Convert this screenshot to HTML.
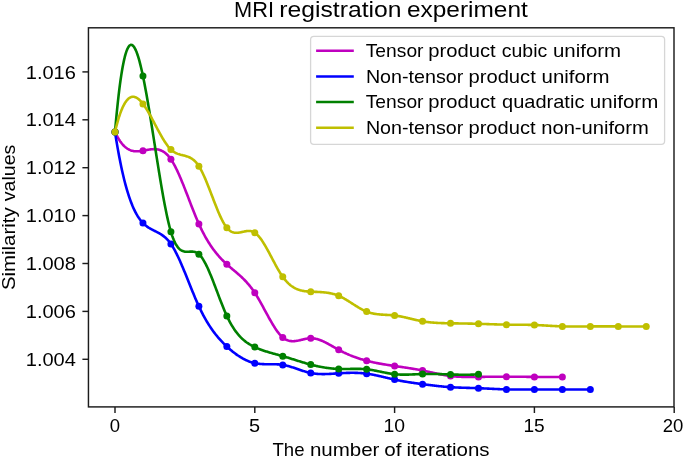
<!DOCTYPE html>
<html><head><meta charset="utf-8"><style>
html,body{margin:0;padding:0;background:#fff;}
body{width:685px;height:458px;overflow:hidden;}
svg{display:block;will-change:transform;}
.t{font-family:"Liberation Sans",sans-serif;font-size:18.6px;fill:#000;}
.tk{stroke:#1c1c1c;stroke-width:1.45;}
</style></head><body>
<svg width="685" height="458" viewBox="0 0 685 458">
<rect width="685" height="458" fill="#fff"/>
<clipPath id="c"><rect x="88.45" y="27.8" width="585.55" height="379.1"/></clipPath>
<g clip-path="url(#c)">
<path d="M115.00,132.00 L115.70,133.48 L116.40,134.89 L117.10,136.22 L117.80,137.49 L118.50,138.68 L119.19,139.81 L119.89,140.88 L120.59,141.88 L121.29,142.81 L121.99,143.69 L122.69,144.51 L123.39,145.28 L124.09,145.98 L124.79,146.64 L125.48,147.24 L126.18,147.80 L126.88,148.30 L127.58,148.76 L128.28,149.18 L128.98,149.55 L129.68,149.88 L130.38,150.17 L131.08,150.43 L131.78,150.65 L132.47,150.83 L133.17,150.99 L133.87,151.11 L134.57,151.20 L135.27,151.27 L135.97,151.31 L136.67,151.32 L137.37,151.32 L138.07,151.30 L138.77,151.25 L139.47,151.19 L140.16,151.12 L140.86,151.03 L141.56,150.93 L142.26,150.82 L142.96,150.70 L143.66,150.58 L144.36,150.45 L145.06,150.32 L145.76,150.18 L146.46,150.05 L147.15,149.92 L147.85,149.80 L148.55,149.68 L149.25,149.56 L149.95,149.46 L150.65,149.37 L151.35,149.29 L152.05,149.23 L152.75,149.18 L153.44,149.15 L154.14,149.14 L154.84,149.15 L155.54,149.18 L156.24,149.24 L156.94,149.32 L157.64,149.44 L158.34,149.58 L159.04,149.76 L159.74,149.97 L160.44,150.21 L161.13,150.49 L161.83,150.81 L162.53,151.18 L163.23,151.58 L163.93,152.03 L164.63,152.52 L165.33,153.06 L166.03,153.65 L166.73,154.29 L167.43,154.98 L168.12,155.73 L168.82,156.53 L169.52,157.40 L170.22,158.32 L170.92,159.30 L171.62,160.34 L172.32,161.45 L173.02,162.61 L173.72,163.83 L174.41,165.11 L175.11,166.43 L175.81,167.80 L176.51,169.22 L177.21,170.68 L177.91,172.18 L178.61,173.72 L179.31,175.29 L180.01,176.90 L180.71,178.54 L181.41,180.21 L182.10,181.90 L182.80,183.62 L183.50,185.36 L184.20,187.12 L184.90,188.89 L185.60,190.67 L186.30,192.47 L187.00,194.28 L187.70,196.09 L188.39,197.91 L189.09,199.72 L189.79,201.54 L190.49,203.35 L191.19,205.16 L191.89,206.95 L192.59,208.74 L193.29,210.51 L193.99,212.27 L194.69,214.01 L195.38,215.72 L196.08,217.41 L196.78,219.08 L197.48,220.72 L198.18,222.33 L198.88,223.90 L199.58,225.44 L200.28,226.94 L200.98,228.41 L201.68,229.84 L202.38,231.25 L203.07,232.61 L203.77,233.95 L204.47,235.25 L205.17,236.53 L205.87,237.77 L206.57,238.99 L207.27,240.17 L207.97,241.33 L208.67,242.46 L209.37,243.56 L210.06,244.64 L210.76,245.69 L211.46,246.72 L212.16,247.72 L212.86,248.70 L213.56,249.65 L214.26,250.59 L214.96,251.50 L215.66,252.39 L216.36,253.26 L217.05,254.11 L217.75,254.94 L218.45,255.75 L219.15,256.55 L219.85,257.33 L220.55,258.09 L221.25,258.83 L221.95,259.56 L222.65,260.28 L223.34,260.98 L224.04,261.67 L224.74,262.34 L225.44,263.01 L226.14,263.66 L226.84,264.30 L227.54,264.93 L228.24,265.55 L228.94,266.17 L229.64,266.78 L230.34,267.38 L231.03,267.98 L231.73,268.57 L232.43,269.16 L233.13,269.75 L233.83,270.34 L234.53,270.92 L235.23,271.51 L235.93,272.11 L236.63,272.70 L237.32,273.30 L238.02,273.91 L238.72,274.52 L239.42,275.14 L240.12,275.77 L240.82,276.41 L241.52,277.05 L242.22,277.72 L242.92,278.39 L243.62,279.08 L244.31,279.78 L245.01,280.50 L245.71,281.23 L246.41,281.98 L247.11,282.76 L247.81,283.55 L248.51,284.36 L249.21,285.20 L249.91,286.05 L250.61,286.94 L251.31,287.85 L252.00,288.78 L252.70,289.74 L253.40,290.73 L254.10,291.75 L254.80,292.80 L255.50,293.88 L256.20,294.99 L256.90,296.13 L257.60,297.29 L258.30,298.48 L258.99,299.68 L259.69,300.90 L260.39,302.15 L261.09,303.40 L261.79,304.67 L262.49,305.94 L263.19,307.23 L263.89,308.52 L264.59,309.81 L265.28,311.10 L265.98,312.39 L266.68,313.68 L267.38,314.97 L268.08,316.24 L268.78,317.51 L269.48,318.76 L270.18,320.00 L270.88,321.23 L271.58,322.44 L272.27,323.62 L272.97,324.78 L273.67,325.92 L274.37,327.03 L275.07,328.11 L275.77,329.16 L276.47,330.18 L277.17,331.16 L277.87,332.10 L278.57,333.00 L279.26,333.86 L279.96,334.68 L280.66,335.45 L281.36,336.17 L282.06,336.83 L282.76,337.45 L283.46,338.01 L284.16,338.52 L284.86,338.98 L285.56,339.38 L286.25,339.74 L286.95,340.06 L287.65,340.33 L288.35,340.56 L289.05,340.75 L289.75,340.90 L290.45,341.02 L291.15,341.11 L291.85,341.16 L292.55,341.19 L293.25,341.19 L293.94,341.16 L294.64,341.11 L295.34,341.04 L296.04,340.95 L296.74,340.84 L297.44,340.72 L298.14,340.59 L298.84,340.44 L299.54,340.29 L300.24,340.12 L300.93,339.96 L301.63,339.79 L302.33,339.62 L303.03,339.45 L303.73,339.29 L304.43,339.12 L305.13,338.97 L305.83,338.83 L306.53,338.70 L307.23,338.58 L307.92,338.47 L308.62,338.39 L309.32,338.32 L310.02,338.27 L310.72,338.25 L311.42,338.25 L312.12,338.28 L312.82,338.33 L313.52,338.40 L314.22,338.50 L314.91,338.62 L315.61,338.76 L316.31,338.91 L317.01,339.09 L317.71,339.29 L318.41,339.50 L319.11,339.73 L319.81,339.98 L320.51,340.24 L321.21,340.51 L321.90,340.80 L322.60,341.11 L323.30,341.42 L324.00,341.75 L324.70,342.08 L325.40,342.43 L326.10,342.78 L326.80,343.15 L327.50,343.52 L328.19,343.89 L328.89,344.28 L329.59,344.66 L330.29,345.05 L330.99,345.45 L331.69,345.85 L332.39,346.25 L333.09,346.65 L333.79,347.05 L334.49,347.45 L335.19,347.85 L335.88,348.25 L336.58,348.64 L337.28,349.03 L337.98,349.42 L338.68,349.80 L339.38,350.18 L340.08,350.54 L340.78,350.91 L341.48,351.27 L342.18,351.62 L342.87,351.96 L343.57,352.31 L344.27,352.64 L344.97,352.97 L345.67,353.29 L346.37,353.61 L347.07,353.93 L347.77,354.23 L348.47,354.54 L349.17,354.83 L349.86,355.13 L350.56,355.41 L351.26,355.70 L351.96,355.97 L352.66,356.25 L353.36,356.51 L354.06,356.78 L354.76,357.03 L355.46,357.29 L356.15,357.54 L356.85,357.78 L357.55,358.02 L358.25,358.25 L358.95,358.48 L359.65,358.71 L360.35,358.93 L361.05,359.15 L361.75,359.36 L362.45,359.57 L363.14,359.78 L363.84,359.98 L364.54,360.17 L365.24,360.37 L365.94,360.55 L366.64,360.74 L367.34,360.92 L368.04,361.10 L368.74,361.27 L369.44,361.44 L370.13,361.61 L370.83,361.77 L371.53,361.93 L372.23,362.09 L372.93,362.25 L373.63,362.40 L374.33,362.55 L375.03,362.69 L375.73,362.83 L376.43,362.97 L377.12,363.11 L377.82,363.25 L378.52,363.38 L379.22,363.51 L379.92,363.64 L380.62,363.76 L381.32,363.89 L382.02,364.01 L382.72,364.13 L383.42,364.25 L384.12,364.37 L384.81,364.48 L385.51,364.59 L386.21,364.71 L386.91,364.82 L387.61,364.93 L388.31,365.04 L389.01,365.15 L389.71,365.25 L390.41,365.36 L391.11,365.46 L391.80,365.57 L392.50,365.67 L393.20,365.77 L393.90,365.88 L394.60,365.98 L395.30,366.08 L396.00,366.18 L396.70,366.29 L397.40,366.39 L398.10,366.49 L398.79,366.59 L399.49,366.69 L400.19,366.80 L400.89,366.90 L401.59,367.00 L402.29,367.11 L402.99,367.21 L403.69,367.31 L404.39,367.42 L405.09,367.52 L405.78,367.63 L406.48,367.73 L407.18,367.84 L407.88,367.95 L408.58,368.06 L409.28,368.17 L409.98,368.28 L410.68,368.39 L411.38,368.51 L412.07,368.62 L412.77,368.74 L413.47,368.85 L414.17,368.97 L414.87,369.09 L415.57,369.21 L416.27,369.33 L416.97,369.46 L417.67,369.59 L418.37,369.71 L419.06,369.84 L419.76,369.97 L420.46,370.11 L421.16,370.24 L421.86,370.38 L422.56,370.52 L423.26,370.66 L423.96,370.81 L424.66,370.95 L425.36,371.10 L426.06,371.25 L426.75,371.40 L427.45,371.55 L428.15,371.70 L428.85,371.85 L429.55,372.00 L430.25,372.16 L430.95,372.31 L431.65,372.47 L432.35,372.62 L433.05,372.77 L433.74,372.93 L434.44,373.08 L435.14,373.23 L435.84,373.38 L436.54,373.53 L437.24,373.68 L437.94,373.82 L438.64,373.97 L439.34,374.11 L440.04,374.25 L440.73,374.39 L441.43,374.53 L442.13,374.66 L442.83,374.79 L443.53,374.92 L444.23,375.04 L444.93,375.17 L445.63,375.28 L446.33,375.40 L447.03,375.51 L447.72,375.62 L448.42,375.72 L449.12,375.82 L449.82,375.91 L450.52,376.00 L451.22,376.08 L451.92,376.16 L452.62,376.24 L453.32,376.31 L454.01,376.38 L454.71,376.44 L455.41,376.49 L456.11,376.55 L456.81,376.60 L457.51,376.64 L458.21,376.69 L458.91,376.73 L459.61,376.76 L460.31,376.79 L461.00,376.82 L461.70,376.85 L462.40,376.87 L463.10,376.89 L463.80,376.91 L464.50,376.93 L465.20,376.94 L465.90,376.95 L466.60,376.96 L467.30,376.97 L468.00,376.97 L468.69,376.97 L469.39,376.98 L470.09,376.98 L470.79,376.97 L471.49,376.97 L472.19,376.97 L472.89,376.96 L473.59,376.96 L474.29,376.95 L474.99,376.94 L475.68,376.93 L476.38,376.93 L477.08,376.92 L477.78,376.91 L478.48,376.90 L479.18,376.89 L479.88,376.88 L480.58,376.87 L481.28,376.87 L481.98,376.86 L482.67,376.85 L483.37,376.84 L484.07,376.83 L484.77,376.83 L485.47,376.82 L486.17,376.81 L486.87,376.80 L487.57,376.80 L488.27,376.79 L488.97,376.78 L489.66,376.78 L490.36,376.77 L491.06,376.76 L491.76,376.76 L492.46,376.75 L493.16,376.75 L493.86,376.74 L494.56,376.74 L495.26,376.73 L495.95,376.73 L496.65,376.72 L497.35,376.72 L498.05,376.72 L498.75,376.71 L499.45,376.71 L500.15,376.71 L500.85,376.71 L501.55,376.70 L502.25,376.70 L502.94,376.70 L503.64,376.70 L504.34,376.70 L505.04,376.70 L505.74,376.70 L506.44,376.70 L507.14,376.70 L507.84,376.70 L508.54,376.70 L509.24,376.71 L509.94,376.71 L510.63,376.71 L511.33,376.71 L512.03,376.72 L512.73,376.72 L513.43,376.72 L514.13,376.73 L514.83,376.73 L515.53,376.74 L516.23,376.74 L516.92,376.75 L517.62,376.75 L518.32,376.76 L519.02,376.76 L519.72,376.77 L520.42,376.77 L521.12,376.78 L521.82,376.79 L522.52,376.79 L523.22,376.80 L523.91,376.80 L524.61,376.81 L525.31,376.82 L526.01,376.82 L526.71,376.83 L527.41,376.84 L528.11,376.84 L528.81,376.85 L529.51,376.86 L530.21,376.86 L530.90,376.87 L531.60,376.88 L532.30,376.88 L533.00,376.89 L533.70,376.89 L534.40,376.90 L535.10,376.91 L535.80,376.91 L536.50,376.92 L537.20,376.92 L537.89,376.93 L538.59,376.93 L539.29,376.94 L539.99,376.94 L540.69,376.95 L541.39,376.95 L542.09,376.95 L542.79,376.96 L543.49,376.96 L544.19,376.96 L544.88,376.97 L545.58,376.97 L546.28,376.97 L546.98,376.97 L547.68,376.97 L548.38,376.98 L549.08,376.98 L549.78,376.98 L550.48,376.98 L551.18,376.98 L551.88,376.98 L552.57,376.97 L553.27,376.97 L553.97,376.97 L554.67,376.97 L555.37,376.96 L556.07,376.96 L556.77,376.96 L557.47,376.95 L558.17,376.94 L558.87,376.94 L559.56,376.93 L560.26,376.93 L560.96,376.92 L561.66,376.91 L562.36,376.90" fill="none" stroke="#bf00bf" stroke-width="2.6" stroke-linejoin="round" stroke-linecap="butt"/>
<circle cx="115.00" cy="132.00" r="3.5" fill="#bf00bf"/>
<circle cx="142.96" cy="150.70" r="3.5" fill="#bf00bf"/>
<circle cx="170.92" cy="159.30" r="3.5" fill="#bf00bf"/>
<circle cx="198.88" cy="223.90" r="3.5" fill="#bf00bf"/>
<circle cx="226.84" cy="264.30" r="3.5" fill="#bf00bf"/>
<circle cx="254.80" cy="292.80" r="3.5" fill="#bf00bf"/>
<circle cx="282.76" cy="337.45" r="3.5" fill="#bf00bf"/>
<circle cx="310.72" cy="338.25" r="3.5" fill="#bf00bf"/>
<circle cx="338.68" cy="349.80" r="3.5" fill="#bf00bf"/>
<circle cx="366.64" cy="360.74" r="3.5" fill="#bf00bf"/>
<circle cx="394.60" cy="365.98" r="3.5" fill="#bf00bf"/>
<circle cx="422.56" cy="370.52" r="3.5" fill="#bf00bf"/>
<circle cx="450.52" cy="376.00" r="3.5" fill="#bf00bf"/>
<circle cx="478.48" cy="376.90" r="3.5" fill="#bf00bf"/>
<circle cx="506.44" cy="376.70" r="3.5" fill="#bf00bf"/>
<circle cx="534.40" cy="376.90" r="3.5" fill="#bf00bf"/>
<circle cx="562.36" cy="376.90" r="3.5" fill="#bf00bf"/>
<path d="M115.00,132.00 L115.70,136.43 L116.40,140.72 L117.10,144.87 L117.80,148.88 L118.50,152.75 L119.19,156.49 L119.89,160.10 L120.59,163.59 L121.29,166.95 L121.99,170.19 L122.69,173.30 L123.39,176.30 L124.09,179.19 L124.79,181.96 L125.48,184.62 L126.18,187.18 L126.88,189.63 L127.58,191.98 L128.28,194.23 L128.98,196.38 L129.68,198.44 L130.38,200.41 L131.08,202.29 L131.78,204.08 L132.47,205.78 L133.17,207.40 L133.87,208.95 L134.57,210.42 L135.27,211.81 L135.97,213.13 L136.67,214.39 L137.37,215.57 L138.07,216.69 L138.77,217.75 L139.47,218.76 L140.16,219.70 L140.86,220.59 L141.56,221.43 L142.26,222.22 L142.96,222.97 L143.66,223.67 L144.36,224.33 L145.06,224.95 L145.76,225.54 L146.46,226.09 L147.15,226.61 L147.85,227.10 L148.55,227.57 L149.25,228.01 L149.95,228.43 L150.65,228.84 L151.35,229.23 L152.05,229.60 L152.75,229.96 L153.44,230.32 L154.14,230.67 L154.84,231.02 L155.54,231.36 L156.24,231.71 L156.94,232.06 L157.64,232.42 L158.34,232.79 L159.04,233.17 L159.74,233.57 L160.44,233.98 L161.13,234.42 L161.83,234.87 L162.53,235.35 L163.23,235.86 L163.93,236.40 L164.63,236.97 L165.33,237.57 L166.03,238.21 L166.73,238.89 L167.43,239.62 L168.12,240.39 L168.82,241.21 L169.52,242.07 L170.22,242.99 L170.92,243.97 L171.62,245.00 L172.32,246.09 L173.02,247.23 L173.72,248.42 L174.41,249.67 L175.11,250.95 L175.81,252.29 L176.51,253.66 L177.21,255.07 L177.91,256.52 L178.61,258.01 L179.31,259.53 L180.01,261.08 L180.71,262.66 L181.41,264.26 L182.10,265.89 L182.80,267.54 L183.50,269.21 L184.20,270.90 L184.90,272.60 L185.60,274.32 L186.30,276.04 L187.00,277.77 L187.70,279.51 L188.39,281.25 L189.09,283.00 L189.79,284.74 L190.49,286.48 L191.19,288.22 L191.89,289.94 L192.59,291.66 L193.29,293.36 L193.99,295.05 L194.69,296.73 L195.38,298.38 L196.08,300.01 L196.78,301.62 L197.48,303.21 L198.18,304.76 L198.88,306.29 L199.58,307.78 L200.28,309.25 L200.98,310.68 L201.68,312.08 L202.38,313.44 L203.07,314.78 L203.77,316.09 L204.47,317.38 L205.17,318.63 L205.87,319.85 L206.57,321.05 L207.27,322.23 L207.97,323.37 L208.67,324.49 L209.37,325.59 L210.06,326.66 L210.76,327.71 L211.46,328.74 L212.16,329.74 L212.86,330.72 L213.56,331.68 L214.26,332.62 L214.96,333.53 L215.66,334.43 L216.36,335.31 L217.05,336.17 L217.75,337.01 L218.45,337.84 L219.15,338.64 L219.85,339.43 L220.55,340.21 L221.25,340.97 L221.95,341.71 L222.65,342.44 L223.34,343.16 L224.04,343.86 L224.74,344.55 L225.44,345.23 L226.14,345.89 L226.84,346.55 L227.54,347.19 L228.24,347.83 L228.94,348.45 L229.64,349.07 L230.34,349.67 L231.03,350.26 L231.73,350.84 L232.43,351.41 L233.13,351.96 L233.83,352.51 L234.53,353.05 L235.23,353.57 L235.93,354.08 L236.63,354.58 L237.32,355.07 L238.02,355.54 L238.72,356.01 L239.42,356.46 L240.12,356.90 L240.82,357.33 L241.52,357.74 L242.22,358.14 L242.92,358.53 L243.62,358.91 L244.31,359.28 L245.01,359.63 L245.71,359.97 L246.41,360.29 L247.11,360.60 L247.81,360.90 L248.51,361.19 L249.21,361.46 L249.91,361.72 L250.61,361.96 L251.31,362.19 L252.00,362.41 L252.70,362.61 L253.40,362.80 L254.10,362.98 L254.80,363.14 L255.50,363.29 L256.20,363.42 L256.90,363.54 L257.60,363.65 L258.30,363.74 L258.99,363.83 L259.69,363.90 L260.39,363.97 L261.09,364.02 L261.79,364.07 L262.49,364.11 L263.19,364.14 L263.89,364.17 L264.59,364.19 L265.28,364.21 L265.98,364.22 L266.68,364.23 L267.38,364.23 L268.08,364.23 L268.78,364.23 L269.48,364.23 L270.18,364.23 L270.88,364.23 L271.58,364.23 L272.27,364.23 L272.97,364.23 L273.67,364.24 L274.37,364.25 L275.07,364.26 L275.77,364.28 L276.47,364.31 L277.17,364.34 L277.87,364.38 L278.57,364.42 L279.26,364.48 L279.96,364.54 L280.66,364.61 L281.36,364.69 L282.06,364.79 L282.76,364.89 L283.46,365.01 L284.16,365.13 L284.86,365.27 L285.56,365.42 L286.25,365.58 L286.95,365.75 L287.65,365.93 L288.35,366.11 L289.05,366.31 L289.75,366.51 L290.45,366.71 L291.15,366.93 L291.85,367.15 L292.55,367.37 L293.25,367.60 L293.94,367.83 L294.64,368.06 L295.34,368.30 L296.04,368.53 L296.74,368.77 L297.44,369.01 L298.14,369.25 L298.84,369.49 L299.54,369.73 L300.24,369.97 L300.93,370.21 L301.63,370.44 L302.33,370.67 L303.03,370.90 L303.73,371.12 L304.43,371.33 L305.13,371.55 L305.83,371.75 L306.53,371.95 L307.23,372.14 L307.92,372.32 L308.62,372.50 L309.32,372.67 L310.02,372.82 L310.72,372.97 L311.42,373.11 L312.12,373.23 L312.82,373.35 L313.52,373.46 L314.22,373.55 L314.91,373.64 L315.61,373.72 L316.31,373.79 L317.01,373.85 L317.71,373.91 L318.41,373.95 L319.11,373.99 L319.81,374.03 L320.51,374.05 L321.21,374.07 L321.90,374.08 L322.60,374.09 L323.30,374.09 L324.00,374.09 L324.70,374.08 L325.40,374.07 L326.10,374.05 L326.80,374.03 L327.50,374.00 L328.19,373.97 L328.89,373.94 L329.59,373.90 L330.29,373.87 L330.99,373.83 L331.69,373.79 L332.39,373.74 L333.09,373.70 L333.79,373.65 L334.49,373.60 L335.19,373.56 L335.88,373.51 L336.58,373.46 L337.28,373.41 L337.98,373.37 L338.68,373.32 L339.38,373.28 L340.08,373.23 L340.78,373.19 L341.48,373.15 L342.18,373.11 L342.87,373.08 L343.57,373.04 L344.27,373.01 L344.97,372.98 L345.67,372.95 L346.37,372.92 L347.07,372.90 L347.77,372.88 L348.47,372.86 L349.17,372.84 L349.86,372.83 L350.56,372.82 L351.26,372.82 L351.96,372.81 L352.66,372.81 L353.36,372.82 L354.06,372.82 L354.76,372.83 L355.46,372.85 L356.15,372.86 L356.85,372.89 L357.55,372.91 L358.25,372.94 L358.95,372.98 L359.65,373.02 L360.35,373.06 L361.05,373.11 L361.75,373.16 L362.45,373.22 L363.14,373.28 L363.84,373.35 L364.54,373.42 L365.24,373.50 L365.94,373.58 L366.64,373.67 L367.34,373.76 L368.04,373.86 L368.74,373.97 L369.44,374.08 L370.13,374.19 L370.83,374.31 L371.53,374.43 L372.23,374.56 L372.93,374.69 L373.63,374.83 L374.33,374.97 L375.03,375.11 L375.73,375.25 L376.43,375.40 L377.12,375.55 L377.82,375.71 L378.52,375.86 L379.22,376.02 L379.92,376.18 L380.62,376.34 L381.32,376.50 L382.02,376.67 L382.72,376.83 L383.42,377.00 L384.12,377.16 L384.81,377.33 L385.51,377.50 L386.21,377.66 L386.91,377.83 L387.61,378.00 L388.31,378.16 L389.01,378.33 L389.71,378.49 L390.41,378.66 L391.11,378.82 L391.80,378.98 L392.50,379.14 L393.20,379.29 L393.90,379.45 L394.60,379.60 L395.30,379.75 L396.00,379.90 L396.70,380.04 L397.40,380.18 L398.10,380.32 L398.79,380.46 L399.49,380.59 L400.19,380.73 L400.89,380.86 L401.59,380.98 L402.29,381.11 L402.99,381.23 L403.69,381.36 L404.39,381.48 L405.09,381.60 L405.78,381.71 L406.48,381.83 L407.18,381.94 L407.88,382.05 L408.58,382.16 L409.28,382.27 L409.98,382.38 L410.68,382.49 L411.38,382.59 L412.07,382.70 L412.77,382.80 L413.47,382.90 L414.17,383.00 L414.87,383.10 L415.57,383.20 L416.27,383.30 L416.97,383.40 L417.67,383.49 L418.37,383.59 L419.06,383.68 L419.76,383.78 L420.46,383.87 L421.16,383.96 L421.86,384.06 L422.56,384.15 L423.26,384.24 L423.96,384.33 L424.66,384.43 L425.36,384.52 L426.06,384.61 L426.75,384.70 L427.45,384.79 L428.15,384.88 L428.85,384.97 L429.55,385.05 L430.25,385.14 L430.95,385.23 L431.65,385.31 L432.35,385.40 L433.05,385.48 L433.74,385.56 L434.44,385.65 L435.14,385.73 L435.84,385.81 L436.54,385.89 L437.24,385.96 L437.94,386.04 L438.64,386.11 L439.34,386.19 L440.04,386.26 L440.73,386.33 L441.43,386.40 L442.13,386.47 L442.83,386.54 L443.53,386.60 L444.23,386.67 L444.93,386.73 L445.63,386.79 L446.33,386.85 L447.03,386.90 L447.72,386.96 L448.42,387.01 L449.12,387.06 L449.82,387.11 L450.52,387.16 L451.22,387.21 L451.92,387.25 L452.62,387.29 L453.32,387.33 L454.01,387.37 L454.71,387.40 L455.41,387.44 L456.11,387.47 L456.81,387.50 L457.51,387.53 L458.21,387.56 L458.91,387.59 L459.61,387.62 L460.31,387.65 L461.00,387.67 L461.70,387.69 L462.40,387.72 L463.10,387.74 L463.80,387.76 L464.50,387.78 L465.20,387.80 L465.90,387.82 L466.60,387.84 L467.30,387.86 L468.00,387.88 L468.69,387.90 L469.39,387.92 L470.09,387.94 L470.79,387.96 L471.49,387.98 L472.19,388.00 L472.89,388.02 L473.59,388.04 L474.29,388.06 L474.99,388.08 L475.68,388.10 L476.38,388.13 L477.08,388.15 L477.78,388.17 L478.48,388.20 L479.18,388.23 L479.88,388.25 L480.58,388.28 L481.28,388.31 L481.98,388.34 L482.67,388.37 L483.37,388.40 L484.07,388.43 L484.77,388.47 L485.47,388.50 L486.17,388.53 L486.87,388.56 L487.57,388.60 L488.27,388.63 L488.97,388.67 L489.66,388.70 L490.36,388.73 L491.06,388.77 L491.76,388.80 L492.46,388.84 L493.16,388.87 L493.86,388.90 L494.56,388.94 L495.26,388.97 L495.95,389.00 L496.65,389.03 L497.35,389.06 L498.05,389.09 L498.75,389.12 L499.45,389.15 L500.15,389.18 L500.85,389.21 L501.55,389.24 L502.25,389.26 L502.94,389.29 L503.64,389.31 L504.34,389.33 L505.04,389.35 L505.74,389.37 L506.44,389.39 L507.14,389.41 L507.84,389.42 L508.54,389.44 L509.24,389.45 L509.94,389.46 L510.63,389.47 L511.33,389.48 L512.03,389.49 L512.73,389.50 L513.43,389.50 L514.13,389.51 L514.83,389.51 L515.53,389.52 L516.23,389.52 L516.92,389.52 L517.62,389.52 L518.32,389.52 L519.02,389.52 L519.72,389.52 L520.42,389.52 L521.12,389.52 L521.82,389.52 L522.52,389.52 L523.22,389.51 L523.91,389.51 L524.61,389.51 L525.31,389.50 L526.01,389.50 L526.71,389.49 L527.41,389.49 L528.11,389.49 L528.81,389.48 L529.51,389.48 L530.21,389.47 L530.90,389.47 L531.60,389.46 L532.30,389.46 L533.00,389.46 L533.70,389.45 L534.40,389.45 L535.10,389.45 L535.80,389.44 L536.50,389.44 L537.20,389.44 L537.89,389.44 L538.59,389.44 L539.29,389.44 L539.99,389.44 L540.69,389.44 L541.39,389.44 L542.09,389.44 L542.79,389.44 L543.49,389.44 L544.19,389.44 L544.88,389.44 L545.58,389.44 L546.28,389.45 L546.98,389.45 L547.68,389.45 L548.38,389.45 L549.08,389.45 L549.78,389.46 L550.48,389.46 L551.18,389.46 L551.88,389.47 L552.57,389.47 L553.27,389.47 L553.97,389.48 L554.67,389.48 L555.37,389.48 L556.07,389.49 L556.77,389.49 L557.47,389.49 L558.17,389.50 L558.87,389.50 L559.56,389.51 L560.26,389.51 L560.96,389.51 L561.66,389.52 L562.36,389.52 L563.06,389.52 L563.76,389.53 L564.46,389.53 L565.16,389.53 L565.86,389.54 L566.55,389.54 L567.25,389.54 L567.95,389.55 L568.65,389.55 L569.35,389.55 L570.05,389.56 L570.75,389.56 L571.45,389.56 L572.15,389.56 L572.85,389.56 L573.54,389.57 L574.24,389.57 L574.94,389.57 L575.64,389.57 L576.34,389.57 L577.04,389.57 L577.74,389.57 L578.44,389.57 L579.14,389.57 L579.84,389.57 L580.53,389.57 L581.23,389.57 L581.93,389.57 L582.63,389.56 L583.33,389.56 L584.03,389.56 L584.73,389.56 L585.43,389.55 L586.13,389.55 L586.83,389.55 L587.52,389.54 L588.22,389.54 L588.92,389.53 L589.62,389.53 L590.32,389.52" fill="none" stroke="#0000ff" stroke-width="2.6" stroke-linejoin="round" stroke-linecap="butt"/>
<circle cx="115.00" cy="132.00" r="3.5" fill="#0000ff"/>
<circle cx="142.96" cy="222.97" r="3.5" fill="#0000ff"/>
<circle cx="170.92" cy="243.97" r="3.5" fill="#0000ff"/>
<circle cx="198.88" cy="306.29" r="3.5" fill="#0000ff"/>
<circle cx="226.84" cy="346.55" r="3.5" fill="#0000ff"/>
<circle cx="254.80" cy="363.14" r="3.5" fill="#0000ff"/>
<circle cx="282.76" cy="364.89" r="3.5" fill="#0000ff"/>
<circle cx="310.72" cy="372.97" r="3.5" fill="#0000ff"/>
<circle cx="338.68" cy="373.32" r="3.5" fill="#0000ff"/>
<circle cx="366.64" cy="373.67" r="3.5" fill="#0000ff"/>
<circle cx="394.60" cy="379.60" r="3.5" fill="#0000ff"/>
<circle cx="422.56" cy="384.15" r="3.5" fill="#0000ff"/>
<circle cx="450.52" cy="387.16" r="3.5" fill="#0000ff"/>
<circle cx="478.48" cy="388.20" r="3.5" fill="#0000ff"/>
<circle cx="506.44" cy="389.39" r="3.5" fill="#0000ff"/>
<circle cx="534.40" cy="389.45" r="3.5" fill="#0000ff"/>
<circle cx="562.36" cy="389.52" r="3.5" fill="#0000ff"/>
<circle cx="590.32" cy="389.52" r="3.5" fill="#0000ff"/>
<path d="M115.00,132.00 L115.70,123.99 L116.40,116.43 L117.10,109.29 L117.80,102.58 L118.50,96.28 L119.19,90.38 L119.89,84.89 L120.59,79.79 L121.29,75.07 L121.99,70.72 L122.69,66.75 L123.39,63.13 L124.09,59.87 L124.79,56.95 L125.48,54.36 L126.18,52.11 L126.88,50.17 L127.58,48.55 L128.28,47.24 L128.98,46.22 L129.68,45.48 L130.38,45.03 L131.08,44.86 L131.78,44.95 L132.47,45.29 L133.17,45.89 L133.87,46.73 L134.57,47.80 L135.27,49.10 L135.97,50.62 L136.67,52.35 L137.37,54.28 L138.07,56.41 L138.77,58.72 L139.47,61.22 L140.16,63.88 L140.86,66.71 L141.56,69.70 L142.26,72.83 L142.96,76.10 L143.66,79.50 L144.36,83.03 L145.06,86.68 L145.76,90.43 L146.46,94.29 L147.15,98.24 L147.85,102.27 L148.55,106.38 L149.25,110.56 L149.95,114.80 L150.65,119.09 L151.35,123.43 L152.05,127.81 L152.75,132.22 L153.44,136.65 L154.14,141.10 L154.84,145.55 L155.54,150.00 L156.24,154.45 L156.94,158.87 L157.64,163.27 L158.34,167.64 L159.04,171.97 L159.74,176.25 L160.44,180.47 L161.13,184.63 L161.83,188.72 L162.53,192.73 L163.23,196.65 L163.93,200.47 L164.63,204.19 L165.33,207.80 L166.03,211.30 L166.73,214.66 L167.43,217.89 L168.12,220.98 L168.82,223.92 L169.52,226.70 L170.22,229.31 L170.92,231.75 L171.62,234.01 L172.32,236.10 L173.02,238.01 L173.72,239.77 L174.41,241.37 L175.11,242.83 L175.81,244.14 L176.51,245.33 L177.21,246.38 L177.91,247.32 L178.61,248.14 L179.31,248.86 L180.01,249.48 L180.71,250.01 L181.41,250.45 L182.10,250.82 L182.80,251.11 L183.50,251.34 L184.20,251.51 L184.90,251.63 L185.60,251.71 L186.30,251.75 L187.00,251.77 L187.70,251.76 L188.39,251.73 L189.09,251.69 L189.79,251.66 L190.49,251.63 L191.19,251.61 L191.89,251.61 L192.59,251.63 L193.29,251.69 L193.99,251.78 L194.69,251.93 L195.38,252.12 L196.08,252.38 L196.78,252.71 L197.48,253.10 L198.18,253.58 L198.88,254.15 L199.58,254.81 L200.28,255.56 L200.98,256.40 L201.68,257.32 L202.38,258.33 L203.07,259.41 L203.77,260.56 L204.47,261.78 L205.17,263.07 L205.87,264.42 L206.57,265.83 L207.27,267.30 L207.97,268.81 L208.67,270.38 L209.37,271.99 L210.06,273.63 L210.76,275.32 L211.46,277.04 L212.16,278.78 L212.86,280.56 L213.56,282.35 L214.26,284.17 L214.96,286.00 L215.66,287.84 L216.36,289.69 L217.05,291.54 L217.75,293.40 L218.45,295.25 L219.15,297.09 L219.85,298.93 L220.55,300.75 L221.25,302.55 L221.95,304.33 L222.65,306.09 L223.34,307.81 L224.04,309.51 L224.74,311.17 L225.44,312.79 L226.14,314.37 L226.84,315.90 L227.54,317.38 L228.24,318.81 L228.94,320.20 L229.64,321.54 L230.34,322.83 L231.03,324.07 L231.73,325.28 L232.43,326.44 L233.13,327.55 L233.83,328.63 L234.53,329.67 L235.23,330.67 L235.93,331.63 L236.63,332.55 L237.32,333.44 L238.02,334.29 L238.72,335.11 L239.42,335.90 L240.12,336.65 L240.82,337.38 L241.52,338.07 L242.22,338.74 L242.92,339.38 L243.62,340.00 L244.31,340.58 L245.01,341.15 L245.71,341.69 L246.41,342.21 L247.11,342.70 L247.81,343.18 L248.51,343.64 L249.21,344.08 L249.91,344.50 L250.61,344.91 L251.31,345.30 L252.00,345.68 L252.70,346.04 L253.40,346.40 L254.10,346.74 L254.80,347.07 L255.50,347.39 L256.20,347.71 L256.90,348.02 L257.60,348.32 L258.30,348.61 L258.99,348.89 L259.69,349.17 L260.39,349.44 L261.09,349.70 L261.79,349.96 L262.49,350.21 L263.19,350.46 L263.89,350.70 L264.59,350.93 L265.28,351.16 L265.98,351.39 L266.68,351.61 L267.38,351.83 L268.08,352.04 L268.78,352.25 L269.48,352.46 L270.18,352.66 L270.88,352.87 L271.58,353.06 L272.27,353.26 L272.97,353.46 L273.67,353.65 L274.37,353.84 L275.07,354.04 L275.77,354.23 L276.47,354.42 L277.17,354.61 L277.87,354.80 L278.57,354.99 L279.26,355.18 L279.96,355.37 L280.66,355.57 L281.36,355.76 L282.06,355.96 L282.76,356.16 L283.46,356.36 L284.16,356.57 L284.86,356.77 L285.56,356.98 L286.25,357.19 L286.95,357.40 L287.65,357.61 L288.35,357.83 L289.05,358.04 L289.75,358.26 L290.45,358.48 L291.15,358.70 L291.85,358.92 L292.55,359.14 L293.25,359.36 L293.94,359.58 L294.64,359.80 L295.34,360.02 L296.04,360.24 L296.74,360.46 L297.44,360.68 L298.14,360.90 L298.84,361.12 L299.54,361.33 L300.24,361.55 L300.93,361.77 L301.63,361.98 L302.33,362.19 L303.03,362.41 L303.73,362.62 L304.43,362.82 L305.13,363.03 L305.83,363.23 L306.53,363.44 L307.23,363.63 L307.92,363.83 L308.62,364.03 L309.32,364.22 L310.02,364.40 L310.72,364.59 L311.42,364.77 L312.12,364.95 L312.82,365.13 L313.52,365.30 L314.22,365.47 L314.91,365.63 L315.61,365.79 L316.31,365.95 L317.01,366.11 L317.71,366.26 L318.41,366.41 L319.11,366.55 L319.81,366.69 L320.51,366.83 L321.21,366.96 L321.90,367.09 L322.60,367.22 L323.30,367.34 L324.00,367.45 L324.70,367.57 L325.40,367.68 L326.10,367.78 L326.80,367.88 L327.50,367.98 L328.19,368.08 L328.89,368.16 L329.59,368.25 L330.29,368.33 L330.99,368.41 L331.69,368.48 L332.39,368.55 L333.09,368.61 L333.79,368.67 L334.49,368.72 L335.19,368.77 L335.88,368.82 L336.58,368.86 L337.28,368.89 L337.98,368.92 L338.68,368.95 L339.38,368.97 L340.08,368.99 L340.78,369.00 L341.48,369.01 L342.18,369.02 L342.87,369.02 L343.57,369.02 L344.27,369.02 L344.97,369.01 L345.67,369.00 L346.37,368.99 L347.07,368.98 L347.77,368.97 L348.47,368.96 L349.17,368.94 L349.86,368.93 L350.56,368.92 L351.26,368.90 L351.96,368.89 L352.66,368.88 L353.36,368.87 L354.06,368.86 L354.76,368.85 L355.46,368.85 L356.15,368.84 L356.85,368.84 L357.55,368.85 L358.25,368.85 L358.95,368.86 L359.65,368.88 L360.35,368.90 L361.05,368.92 L361.75,368.95 L362.45,368.98 L363.14,369.02 L363.84,369.06 L364.54,369.11 L365.24,369.17 L365.94,369.23 L366.64,369.30 L367.34,369.38 L368.04,369.46 L368.74,369.55 L369.44,369.65 L370.13,369.75 L370.83,369.86 L371.53,369.97 L372.23,370.09 L372.93,370.21 L373.63,370.34 L374.33,370.47 L375.03,370.60 L375.73,370.74 L376.43,370.87 L377.12,371.01 L377.82,371.16 L378.52,371.30 L379.22,371.45 L379.92,371.59 L380.62,371.74 L381.32,371.88 L382.02,372.03 L382.72,372.18 L383.42,372.32 L384.12,372.46 L384.81,372.60 L385.51,372.74 L386.21,372.88 L386.91,373.01 L387.61,373.14 L388.31,373.27 L389.01,373.39 L389.71,373.51 L390.41,373.62 L391.11,373.73 L391.80,373.84 L392.50,373.93 L393.20,374.03 L393.90,374.11 L394.60,374.19 L395.30,374.26 L396.00,374.33 L396.70,374.38 L397.40,374.44 L398.10,374.48 L398.79,374.52 L399.49,374.55 L400.19,374.58 L400.89,374.60 L401.59,374.62 L402.29,374.63 L402.99,374.64 L403.69,374.65 L404.39,374.65 L405.09,374.64 L405.78,374.64 L406.48,374.63 L407.18,374.61 L407.88,374.60 L408.58,374.58 L409.28,374.55 L409.98,374.53 L410.68,374.51 L411.38,374.48 L412.07,374.45 L412.77,374.42 L413.47,374.39 L414.17,374.36 L414.87,374.33 L415.57,374.30 L416.27,374.26 L416.97,374.23 L417.67,374.20 L418.37,374.17 L419.06,374.14 L419.76,374.11 L420.46,374.09 L421.16,374.06 L421.86,374.04 L422.56,374.02 L423.26,374.00 L423.96,373.99 L424.66,373.97 L425.36,373.96 L426.06,373.95 L426.75,373.95 L427.45,373.94 L428.15,373.94 L428.85,373.94 L429.55,373.94 L430.25,373.94 L430.95,373.94 L431.65,373.95 L432.35,373.96 L433.05,373.97 L433.74,373.98 L434.44,373.99 L435.14,374.00 L435.84,374.02 L436.54,374.03 L437.24,374.05 L437.94,374.06 L438.64,374.08 L439.34,374.10 L440.04,374.12 L440.73,374.14 L441.43,374.16 L442.13,374.18 L442.83,374.21 L443.53,374.23 L444.23,374.25 L444.93,374.27 L445.63,374.30 L446.33,374.32 L447.03,374.34 L447.72,374.37 L448.42,374.39 L449.12,374.41 L449.82,374.44 L450.52,374.46 L451.22,374.48 L451.92,374.50 L452.62,374.53 L453.32,374.55 L454.01,374.57 L454.71,374.59 L455.41,374.60 L456.11,374.62 L456.81,374.64 L457.51,374.66 L458.21,374.67 L458.91,374.68 L459.61,374.70 L460.31,374.71 L461.00,374.72 L461.70,374.73 L462.40,374.73 L463.10,374.74 L463.80,374.74 L464.50,374.74 L465.20,374.74 L465.90,374.74 L466.60,374.74 L467.30,374.73 L468.00,374.73 L468.69,374.72 L469.39,374.71 L470.09,374.69 L470.79,374.67 L471.49,374.66 L472.19,374.63 L472.89,374.61 L473.59,374.58 L474.29,374.56 L474.99,374.52 L475.68,374.49 L476.38,374.45 L477.08,374.41 L477.78,374.37 L478.48,374.32" fill="none" stroke="#008000" stroke-width="2.6" stroke-linejoin="round" stroke-linecap="butt"/>
<circle cx="115.00" cy="132.00" r="3.5" fill="#008000"/>
<circle cx="142.96" cy="76.10" r="3.5" fill="#008000"/>
<circle cx="170.92" cy="231.75" r="3.5" fill="#008000"/>
<circle cx="198.88" cy="254.15" r="3.5" fill="#008000"/>
<circle cx="226.84" cy="315.90" r="3.5" fill="#008000"/>
<circle cx="254.80" cy="347.07" r="3.5" fill="#008000"/>
<circle cx="282.76" cy="356.16" r="3.5" fill="#008000"/>
<circle cx="310.72" cy="364.59" r="3.5" fill="#008000"/>
<circle cx="338.68" cy="368.95" r="3.5" fill="#008000"/>
<circle cx="366.64" cy="369.30" r="3.5" fill="#008000"/>
<circle cx="394.60" cy="374.19" r="3.5" fill="#008000"/>
<circle cx="422.56" cy="374.02" r="3.5" fill="#008000"/>
<circle cx="450.52" cy="374.46" r="3.5" fill="#008000"/>
<circle cx="478.48" cy="374.32" r="3.5" fill="#008000"/>
<path d="M115.00,132.00 L115.70,129.05 L116.40,126.26 L117.10,123.60 L117.80,121.09 L118.50,118.72 L119.19,116.49 L119.89,114.40 L120.59,112.43 L121.29,110.60 L121.99,108.89 L122.69,107.31 L123.39,105.85 L124.09,104.51 L124.79,103.29 L125.48,102.18 L126.18,101.18 L126.88,100.29 L127.58,99.51 L128.28,98.83 L128.98,98.25 L129.68,97.77 L130.38,97.39 L131.08,97.10 L131.78,96.90 L132.47,96.79 L133.17,96.76 L133.87,96.82 L134.57,96.96 L135.27,97.17 L135.97,97.46 L136.67,97.82 L137.37,98.26 L138.07,98.75 L138.77,99.32 L139.47,99.94 L140.16,100.63 L140.86,101.37 L141.56,102.16 L142.26,103.01 L142.96,103.90 L143.66,104.84 L144.36,105.82 L145.06,106.85 L145.76,107.91 L146.46,109.01 L147.15,110.14 L147.85,111.31 L148.55,112.49 L149.25,113.71 L149.95,114.95 L150.65,116.21 L151.35,117.48 L152.05,118.77 L152.75,120.07 L153.44,121.38 L154.14,122.70 L154.84,124.02 L155.54,125.34 L156.24,126.67 L156.94,127.99 L157.64,129.30 L158.34,130.60 L159.04,131.89 L159.74,133.17 L160.44,134.43 L161.13,135.68 L161.83,136.90 L162.53,138.09 L163.23,139.26 L163.93,140.40 L164.63,141.50 L165.33,142.57 L166.03,143.61 L166.73,144.60 L167.43,145.55 L168.12,146.45 L168.82,147.31 L169.52,148.11 L170.22,148.86 L170.92,149.56 L171.62,150.20 L172.32,150.78 L173.02,151.31 L173.72,151.79 L174.41,152.23 L175.11,152.63 L175.81,152.99 L176.51,153.31 L177.21,153.60 L177.91,153.87 L178.61,154.11 L179.31,154.33 L180.01,154.54 L180.71,154.73 L181.41,154.90 L182.10,155.08 L182.80,155.25 L183.50,155.42 L184.20,155.59 L184.90,155.77 L185.60,155.96 L186.30,156.16 L187.00,156.39 L187.70,156.63 L188.39,156.89 L189.09,157.19 L189.79,157.52 L190.49,157.88 L191.19,158.27 L191.89,158.71 L192.59,159.20 L193.29,159.73 L193.99,160.32 L194.69,160.96 L195.38,161.66 L196.08,162.42 L196.78,163.25 L197.48,164.14 L198.18,165.11 L198.88,166.16 L199.58,167.28 L200.28,168.48 L200.98,169.75 L201.68,171.09 L202.38,172.49 L203.07,173.95 L203.77,175.46 L204.47,177.02 L205.17,178.63 L205.87,180.28 L206.57,181.96 L207.27,183.68 L207.97,185.43 L208.67,187.20 L209.37,188.99 L210.06,190.80 L210.76,192.61 L211.46,194.44 L212.16,196.27 L212.86,198.09 L213.56,199.92 L214.26,201.73 L214.96,203.52 L215.66,205.30 L216.36,207.06 L217.05,208.79 L217.75,210.49 L218.45,212.15 L219.15,213.78 L219.85,215.35 L220.55,216.89 L221.25,218.37 L221.95,219.79 L222.65,221.15 L223.34,222.45 L224.04,223.67 L224.74,224.83 L225.44,225.90 L226.14,226.89 L226.84,227.80 L227.54,228.62 L228.24,229.35 L228.94,230.00 L229.64,230.56 L230.34,231.06 L231.03,231.48 L231.73,231.84 L232.43,232.14 L233.13,232.37 L233.83,232.56 L234.53,232.69 L235.23,232.77 L235.93,232.82 L236.63,232.82 L237.32,232.79 L238.02,232.73 L238.72,232.65 L239.42,232.54 L240.12,232.41 L240.82,232.27 L241.52,232.12 L242.22,231.96 L242.92,231.81 L243.62,231.65 L244.31,231.50 L245.01,231.36 L245.71,231.23 L246.41,231.12 L247.11,231.04 L247.81,230.98 L248.51,230.95 L249.21,230.95 L249.91,231.00 L250.61,231.08 L251.31,231.21 L252.00,231.40 L252.70,231.63 L253.40,231.93 L254.10,232.29 L254.80,232.71 L255.50,233.20 L256.20,233.76 L256.90,234.39 L257.60,235.08 L258.30,235.83 L258.99,236.63 L259.69,237.49 L260.39,238.39 L261.09,239.35 L261.79,240.35 L262.49,241.39 L263.19,242.47 L263.89,243.58 L264.59,244.73 L265.28,245.91 L265.98,247.12 L266.68,248.35 L267.38,249.61 L268.08,250.88 L268.78,252.17 L269.48,253.47 L270.18,254.78 L270.88,256.10 L271.58,257.42 L272.27,258.74 L272.97,260.07 L273.67,261.39 L274.37,262.70 L275.07,264.00 L275.77,265.29 L276.47,266.57 L277.17,267.82 L277.87,269.05 L278.57,270.26 L279.26,271.45 L279.96,272.60 L280.66,273.72 L281.36,274.80 L282.06,275.85 L282.76,276.85 L283.46,277.81 L284.16,278.73 L284.86,279.60 L285.56,280.43 L286.25,281.22 L286.95,281.98 L287.65,282.69 L288.35,283.37 L289.05,284.01 L289.75,284.62 L290.45,285.19 L291.15,285.73 L291.85,286.24 L292.55,286.72 L293.25,287.16 L293.94,287.58 L294.64,287.97 L295.34,288.33 L296.04,288.67 L296.74,288.98 L297.44,289.27 L298.14,289.54 L298.84,289.79 L299.54,290.01 L300.24,290.22 L300.93,290.40 L301.63,290.57 L302.33,290.72 L303.03,290.86 L303.73,290.99 L304.43,291.10 L305.13,291.19 L305.83,291.28 L306.53,291.36 L307.23,291.42 L307.92,291.48 L308.62,291.54 L309.32,291.58 L310.02,291.62 L310.72,291.66 L311.42,291.69 L312.12,291.73 L312.82,291.76 L313.52,291.78 L314.22,291.81 L314.91,291.84 L315.61,291.87 L316.31,291.89 L317.01,291.92 L317.71,291.95 L318.41,291.98 L319.11,292.02 L319.81,292.05 L320.51,292.09 L321.21,292.14 L321.90,292.18 L322.60,292.24 L323.30,292.29 L324.00,292.36 L324.70,292.43 L325.40,292.50 L326.10,292.58 L326.80,292.67 L327.50,292.77 L328.19,292.88 L328.89,292.99 L329.59,293.12 L330.29,293.25 L330.99,293.40 L331.69,293.55 L332.39,293.72 L333.09,293.90 L333.79,294.09 L334.49,294.29 L335.19,294.51 L335.88,294.74 L336.58,294.98 L337.28,295.24 L337.98,295.51 L338.68,295.80 L339.38,296.10 L340.08,296.42 L340.78,296.76 L341.48,297.11 L342.18,297.47 L342.87,297.84 L343.57,298.22 L344.27,298.61 L344.97,299.01 L345.67,299.43 L346.37,299.84 L347.07,300.27 L347.77,300.70 L348.47,301.14 L349.17,301.58 L349.86,302.02 L350.56,302.47 L351.26,302.92 L351.96,303.37 L352.66,303.82 L353.36,304.27 L354.06,304.72 L354.76,305.16 L355.46,305.61 L356.15,306.05 L356.85,306.48 L357.55,306.91 L358.25,307.34 L358.95,307.75 L359.65,308.16 L360.35,308.56 L361.05,308.95 L361.75,309.33 L362.45,309.70 L363.14,310.05 L363.84,310.39 L364.54,310.72 L365.24,311.04 L365.94,311.34 L366.64,311.62 L367.34,311.89 L368.04,312.14 L368.74,312.37 L369.44,312.59 L370.13,312.79 L370.83,312.98 L371.53,313.16 L372.23,313.32 L372.93,313.48 L373.63,313.62 L374.33,313.75 L375.03,313.87 L375.73,313.98 L376.43,314.08 L377.12,314.17 L377.82,314.25 L378.52,314.33 L379.22,314.40 L379.92,314.46 L380.62,314.52 L381.32,314.58 L382.02,314.63 L382.72,314.67 L383.42,314.72 L384.12,314.76 L384.81,314.80 L385.51,314.83 L386.21,314.87 L386.91,314.91 L387.61,314.95 L388.31,314.99 L389.01,315.03 L389.71,315.07 L390.41,315.12 L391.11,315.17 L391.80,315.22 L392.50,315.28 L393.20,315.35 L393.90,315.42 L394.60,315.50 L395.30,315.59 L396.00,315.68 L396.70,315.78 L397.40,315.88 L398.10,316.00 L398.79,316.11 L399.49,316.24 L400.19,316.37 L400.89,316.50 L401.59,316.64 L402.29,316.78 L402.99,316.93 L403.69,317.08 L404.39,317.23 L405.09,317.38 L405.78,317.54 L406.48,317.70 L407.18,317.87 L407.88,318.03 L408.58,318.20 L409.28,318.36 L409.98,318.53 L410.68,318.70 L411.38,318.87 L412.07,319.03 L412.77,319.20 L413.47,319.37 L414.17,319.53 L414.87,319.70 L415.57,319.86 L416.27,320.02 L416.97,320.17 L417.67,320.33 L418.37,320.48 L419.06,320.63 L419.76,320.77 L420.46,320.91 L421.16,321.04 L421.86,321.17 L422.56,321.30 L423.26,321.42 L423.96,321.54 L424.66,321.64 L425.36,321.75 L426.06,321.85 L426.75,321.94 L427.45,322.04 L428.15,322.12 L428.85,322.20 L429.55,322.28 L430.25,322.35 L430.95,322.42 L431.65,322.49 L432.35,322.55 L433.05,322.61 L433.74,322.67 L434.44,322.72 L435.14,322.77 L435.84,322.81 L436.54,322.86 L437.24,322.90 L437.94,322.93 L438.64,322.97 L439.34,323.00 L440.04,323.03 L440.73,323.06 L441.43,323.08 L442.13,323.11 L442.83,323.13 L443.53,323.15 L444.23,323.17 L444.93,323.19 L445.63,323.21 L446.33,323.22 L447.03,323.24 L447.72,323.25 L448.42,323.26 L449.12,323.28 L449.82,323.29 L450.52,323.30 L451.22,323.31 L451.92,323.32 L452.62,323.33 L453.32,323.35 L454.01,323.36 L454.71,323.37 L455.41,323.38 L456.11,323.39 L456.81,323.40 L457.51,323.41 L458.21,323.42 L458.91,323.43 L459.61,323.44 L460.31,323.45 L461.00,323.46 L461.70,323.48 L462.40,323.49 L463.10,323.50 L463.80,323.51 L464.50,323.52 L465.20,323.53 L465.90,323.54 L466.60,323.56 L467.30,323.57 L468.00,323.58 L468.69,323.60 L469.39,323.61 L470.09,323.62 L470.79,323.64 L471.49,323.65 L472.19,323.67 L472.89,323.68 L473.59,323.70 L474.29,323.71 L474.99,323.73 L475.68,323.75 L476.38,323.76 L477.08,323.78 L477.78,323.80 L478.48,323.82 L479.18,323.84 L479.88,323.86 L480.58,323.88 L481.28,323.90 L481.98,323.92 L482.67,323.95 L483.37,323.97 L484.07,323.99 L484.77,324.01 L485.47,324.04 L486.17,324.06 L486.87,324.08 L487.57,324.11 L488.27,324.13 L488.97,324.16 L489.66,324.18 L490.36,324.20 L491.06,324.23 L491.76,324.25 L492.46,324.27 L493.16,324.30 L493.86,324.32 L494.56,324.34 L495.26,324.36 L495.95,324.39 L496.65,324.41 L497.35,324.43 L498.05,324.45 L498.75,324.47 L499.45,324.49 L500.15,324.51 L500.85,324.52 L501.55,324.54 L502.25,324.56 L502.94,324.57 L503.64,324.59 L504.34,324.60 L505.04,324.62 L505.74,324.63 L506.44,324.64 L507.14,324.65 L507.84,324.66 L508.54,324.67 L509.24,324.68 L509.94,324.68 L510.63,324.69 L511.33,324.70 L512.03,324.70 L512.73,324.71 L513.43,324.71 L514.13,324.71 L514.83,324.72 L515.53,324.72 L516.23,324.72 L516.92,324.73 L517.62,324.73 L518.32,324.73 L519.02,324.74 L519.72,324.74 L520.42,324.75 L521.12,324.75 L521.82,324.75 L522.52,324.76 L523.22,324.77 L523.91,324.77 L524.61,324.78 L525.31,324.79 L526.01,324.80 L526.71,324.81 L527.41,324.82 L528.11,324.83 L528.81,324.84 L529.51,324.85 L530.21,324.87 L530.90,324.89 L531.60,324.90 L532.30,324.92 L533.00,324.94 L533.70,324.97 L534.40,324.99 L535.10,325.02 L535.80,325.04 L536.50,325.07 L537.20,325.10 L537.89,325.13 L538.59,325.17 L539.29,325.20 L539.99,325.24 L540.69,325.27 L541.39,325.31 L542.09,325.35 L542.79,325.38 L543.49,325.42 L544.19,325.46 L544.88,325.50 L545.58,325.54 L546.28,325.58 L546.98,325.63 L547.68,325.67 L548.38,325.71 L549.08,325.75 L549.78,325.79 L550.48,325.83 L551.18,325.87 L551.88,325.91 L552.57,325.95 L553.27,325.99 L553.97,326.03 L554.67,326.07 L555.37,326.10 L556.07,326.14 L556.77,326.17 L557.47,326.21 L558.17,326.24 L558.87,326.27 L559.56,326.30 L560.26,326.33 L560.96,326.35 L561.66,326.38 L562.36,326.40 L563.06,326.42 L563.76,326.44 L564.46,326.46 L565.16,326.47 L565.86,326.49 L566.55,326.50 L567.25,326.51 L567.95,326.52 L568.65,326.53 L569.35,326.54 L570.05,326.54 L570.75,326.55 L571.45,326.55 L572.15,326.56 L572.85,326.56 L573.54,326.56 L574.24,326.56 L574.94,326.56 L575.64,326.55 L576.34,326.55 L577.04,326.55 L577.74,326.54 L578.44,326.54 L579.14,326.53 L579.84,326.53 L580.53,326.52 L581.23,326.51 L581.93,326.51 L582.63,326.50 L583.33,326.49 L584.03,326.48 L584.73,326.48 L585.43,326.47 L586.13,326.46 L586.83,326.45 L587.52,326.45 L588.22,326.44 L588.92,326.43 L589.62,326.43 L590.32,326.42 L591.02,326.41 L591.72,326.41 L592.42,326.40 L593.12,326.40 L593.82,326.40 L594.51,326.39 L595.21,326.39 L595.91,326.39 L596.61,326.38 L597.31,326.38 L598.01,326.38 L598.71,326.38 L599.41,326.38 L600.11,326.38 L600.81,326.38 L601.50,326.37 L602.20,326.37 L602.90,326.37 L603.60,326.38 L604.30,326.38 L605.00,326.38 L605.70,326.38 L606.40,326.38 L607.10,326.38 L607.80,326.38 L608.49,326.38 L609.19,326.39 L609.89,326.39 L610.59,326.39 L611.29,326.39 L611.99,326.39 L612.69,326.40 L613.39,326.40 L614.09,326.40 L614.79,326.41 L615.48,326.41 L616.18,326.41 L616.88,326.41 L617.58,326.42 L618.28,326.42 L618.98,326.42 L619.68,326.43 L620.38,326.43 L621.08,326.43 L621.78,326.43 L622.47,326.44 L623.17,326.44 L623.87,326.44 L624.57,326.45 L625.27,326.45 L625.97,326.45 L626.67,326.45 L627.37,326.45 L628.07,326.46 L628.76,326.46 L629.46,326.46 L630.16,326.46 L630.86,326.46 L631.56,326.46 L632.26,326.46 L632.96,326.46 L633.66,326.47 L634.36,326.47 L635.06,326.47 L635.75,326.46 L636.45,326.46 L637.15,326.46 L637.85,326.46 L638.55,326.46 L639.25,326.46 L639.95,326.46 L640.65,326.45 L641.35,326.45 L642.05,326.45 L642.75,326.44 L643.44,326.44 L644.14,326.44 L644.84,326.43 L645.54,326.43 L646.24,326.42" fill="none" stroke="#bfbf00" stroke-width="2.6" stroke-linejoin="round" stroke-linecap="butt"/>
<circle cx="115.00" cy="132.00" r="3.5" fill="#bfbf00"/>
<circle cx="142.96" cy="103.90" r="3.5" fill="#bfbf00"/>
<circle cx="170.92" cy="149.56" r="3.5" fill="#bfbf00"/>
<circle cx="198.88" cy="166.16" r="3.5" fill="#bfbf00"/>
<circle cx="226.84" cy="227.80" r="3.5" fill="#bfbf00"/>
<circle cx="254.80" cy="232.71" r="3.5" fill="#bfbf00"/>
<circle cx="282.76" cy="276.85" r="3.5" fill="#bfbf00"/>
<circle cx="310.72" cy="291.66" r="3.5" fill="#bfbf00"/>
<circle cx="338.68" cy="295.80" r="3.5" fill="#bfbf00"/>
<circle cx="366.64" cy="311.62" r="3.5" fill="#bfbf00"/>
<circle cx="394.60" cy="315.50" r="3.5" fill="#bfbf00"/>
<circle cx="422.56" cy="321.30" r="3.5" fill="#bfbf00"/>
<circle cx="450.52" cy="323.30" r="3.5" fill="#bfbf00"/>
<circle cx="478.48" cy="323.82" r="3.5" fill="#bfbf00"/>
<circle cx="506.44" cy="324.64" r="3.5" fill="#bfbf00"/>
<circle cx="534.40" cy="324.99" r="3.5" fill="#bfbf00"/>
<circle cx="562.36" cy="326.40" r="3.5" fill="#bfbf00"/>
<circle cx="590.32" cy="326.42" r="3.5" fill="#bfbf00"/>
<circle cx="618.28" cy="326.42" r="3.5" fill="#bfbf00"/>
<circle cx="646.24" cy="326.42" r="3.5" fill="#bfbf00"/>
</g>
<rect x="88.45" y="27.8" width="585.55" height="379.1" fill="none" stroke="#1c1c1c" stroke-width="1.45"/>
<line x1="82.4" y1="359.30" x2="88.45" y2="359.30" class="tk"/>
<line x1="82.4" y1="311.40" x2="88.45" y2="311.40" class="tk"/>
<line x1="82.4" y1="263.50" x2="88.45" y2="263.50" class="tk"/>
<line x1="82.4" y1="215.60" x2="88.45" y2="215.60" class="tk"/>
<line x1="82.4" y1="167.70" x2="88.45" y2="167.70" class="tk"/>
<line x1="82.4" y1="119.80" x2="88.45" y2="119.80" class="tk"/>
<line x1="82.4" y1="71.90" x2="88.45" y2="71.90" class="tk"/>
<line x1="115.00" y1="406.90" x2="115.00" y2="413.0" class="tk"/>
<line x1="254.80" y1="406.90" x2="254.80" y2="413.0" class="tk"/>
<line x1="394.60" y1="406.90" x2="394.60" y2="413.0" class="tk"/>
<line x1="534.40" y1="406.90" x2="534.40" y2="413.0" class="tk"/>
<line x1="674.20" y1="406.90" x2="674.20" y2="413.0" class="tk"/>
<rect x="310.6" y="36.3" width="354" height="108.0" rx="3.3" fill="#fff" fill-opacity="0.8" stroke="#d6d6d6" stroke-width="1.3"/>
<line x1="316.1" y1="50.80" x2="353.8" y2="50.80" stroke="#bf00bf" stroke-width="2.5"/>
<line x1="316.1" y1="76.43" x2="353.8" y2="76.43" stroke="#0000ff" stroke-width="2.5"/>
<line x1="316.1" y1="102.06" x2="353.8" y2="102.06" stroke="#008000" stroke-width="2.5"/>
<line x1="316.1" y1="127.69" x2="353.8" y2="127.69" stroke="#bfbf00" stroke-width="2.5"/>
<text id="y0" x="25.74" y="365.90" class="t" style="font-size:18.60px" textLength="50.15" lengthAdjust="spacingAndGlyphs">1.004</text>
<text id="y1" x="25.74" y="318.00" class="t" style="font-size:18.60px" textLength="50.15" lengthAdjust="spacingAndGlyphs">1.006</text>
<text id="y2" x="25.74" y="270.10" class="t" style="font-size:18.60px" textLength="50.15" lengthAdjust="spacingAndGlyphs">1.008</text>
<text id="y3" x="25.74" y="222.20" class="t" style="font-size:18.60px" textLength="50.15" lengthAdjust="spacingAndGlyphs">1.010</text>
<text id="y4" x="25.74" y="174.30" class="t" style="font-size:18.60px" textLength="50.15" lengthAdjust="spacingAndGlyphs">1.012</text>
<text id="y5" x="25.74" y="126.40" class="t" style="font-size:18.60px" textLength="50.15" lengthAdjust="spacingAndGlyphs">1.014</text>
<text id="y6" x="25.74" y="78.50" class="t" style="font-size:18.60px" textLength="50.15" lengthAdjust="spacingAndGlyphs">1.016</text>
<text id="x0" x="109.71" y="432.20" class="t" style="font-size:18.60px" textLength="10.31" lengthAdjust="spacingAndGlyphs">0</text>
<text id="x1" x="249.04" y="432.20" class="t" style="font-size:18.60px" textLength="11.08" lengthAdjust="spacingAndGlyphs">5</text>
<text id="x2" x="383.54" y="432.20" class="t" style="font-size:18.60px" textLength="21.56" lengthAdjust="spacingAndGlyphs">10</text>
<text id="x3" x="523.42" y="432.20" class="t" style="font-size:18.60px" textLength="21.30" lengthAdjust="spacingAndGlyphs">15</text>
<text id="x4" x="662.79" y="432.20" class="t" style="font-size:18.60px" textLength="20.62" lengthAdjust="spacingAndGlyphs">20</text>
<text id="title_0" x="234.02" y="17.10" class="t" style="font-size:22.00px" textLength="39.93" lengthAdjust="spacingAndGlyphs">MRI</text>
<text id="title_1" x="279.37" y="17.10" class="t" style="font-size:22.00px" textLength="122.10" lengthAdjust="spacingAndGlyphs">registration</text>
<text id="title_2" x="407.00" y="17.10" class="t" style="font-size:22.00px" textLength="120.78" lengthAdjust="spacingAndGlyphs">experiment</text>
<text id="leg0_0" x="365.76" y="57.10" class="t" style="font-size:18.60px" textLength="57.74" lengthAdjust="spacingAndGlyphs">Tensor</text>
<text id="leg0_1" x="428.31" y="57.10" class="t" style="font-size:18.60px" textLength="67.38" lengthAdjust="spacingAndGlyphs">product</text>
<text id="leg0_2" x="501.77" y="57.10" class="t" style="font-size:18.60px" textLength="45.44" lengthAdjust="spacingAndGlyphs">cubic</text>
<text id="leg0_3" x="552.98" y="57.10" class="t" style="font-size:18.60px" textLength="68.19" lengthAdjust="spacingAndGlyphs">uniform</text>
<text id="leg1_0" x="365.91" y="82.73" class="t" style="font-size:18.60px" textLength="97.36" lengthAdjust="spacingAndGlyphs">Non-tensor</text>
<text id="leg1_1" x="468.47" y="82.73" class="t" style="font-size:18.60px" textLength="67.30" lengthAdjust="spacingAndGlyphs">product</text>
<text id="leg1_2" x="541.54" y="82.73" class="t" style="font-size:18.60px" textLength="68.09" lengthAdjust="spacingAndGlyphs">uniform</text>
<text id="leg2_0" x="365.76" y="108.36" class="t" style="font-size:18.60px" textLength="57.74" lengthAdjust="spacingAndGlyphs">Tensor</text>
<text id="leg2_1" x="428.31" y="108.36" class="t" style="font-size:18.60px" textLength="67.38" lengthAdjust="spacingAndGlyphs">product</text>
<text id="leg2_2" x="502.05" y="108.36" class="t" style="font-size:18.60px" textLength="82.35" lengthAdjust="spacingAndGlyphs">quadratic</text>
<text id="leg2_3" x="589.88" y="108.36" class="t" style="font-size:18.60px" textLength="68.35" lengthAdjust="spacingAndGlyphs">uniform</text>
<text id="leg3_0" x="365.91" y="133.99" class="t" style="font-size:18.60px" textLength="97.36" lengthAdjust="spacingAndGlyphs">Non-tensor</text>
<text id="leg3_1" x="468.49" y="133.99" class="t" style="font-size:18.60px" textLength="67.10" lengthAdjust="spacingAndGlyphs">product</text>
<text id="leg3_2" x="541.20" y="133.99" class="t" style="font-size:18.60px" textLength="107.68" lengthAdjust="spacingAndGlyphs">non-uniform</text>
<text id="xlabel_0" x="272.53" y="455.80" class="t" style="font-size:18.60px" textLength="31.95" lengthAdjust="spacingAndGlyphs">The</text>
<text id="xlabel_1" x="309.92" y="455.80" class="t" style="font-size:18.60px" textLength="69.55" lengthAdjust="spacingAndGlyphs">number</text>
<text id="xlabel_2" x="384.27" y="455.80" class="t" style="font-size:18.60px" textLength="17.21" lengthAdjust="spacingAndGlyphs">of</text>
<text id="xlabel_3" x="406.49" y="455.80" class="t" style="font-size:18.60px" textLength="83.13" lengthAdjust="spacingAndGlyphs">iterations</text>
<text id="ylabel_0" transform="translate(15.40,290.04) rotate(-90)" x="0" y="0" class="t" style="font-size:18.60px" textLength="82.65" lengthAdjust="spacingAndGlyphs">Similarity</text>
<text id="ylabel_1" transform="translate(15.40,201.25) rotate(-90)" x="0" y="0" class="t" style="font-size:18.60px" textLength="56.54" lengthAdjust="spacingAndGlyphs">values</text>
</svg>
</body></html>
